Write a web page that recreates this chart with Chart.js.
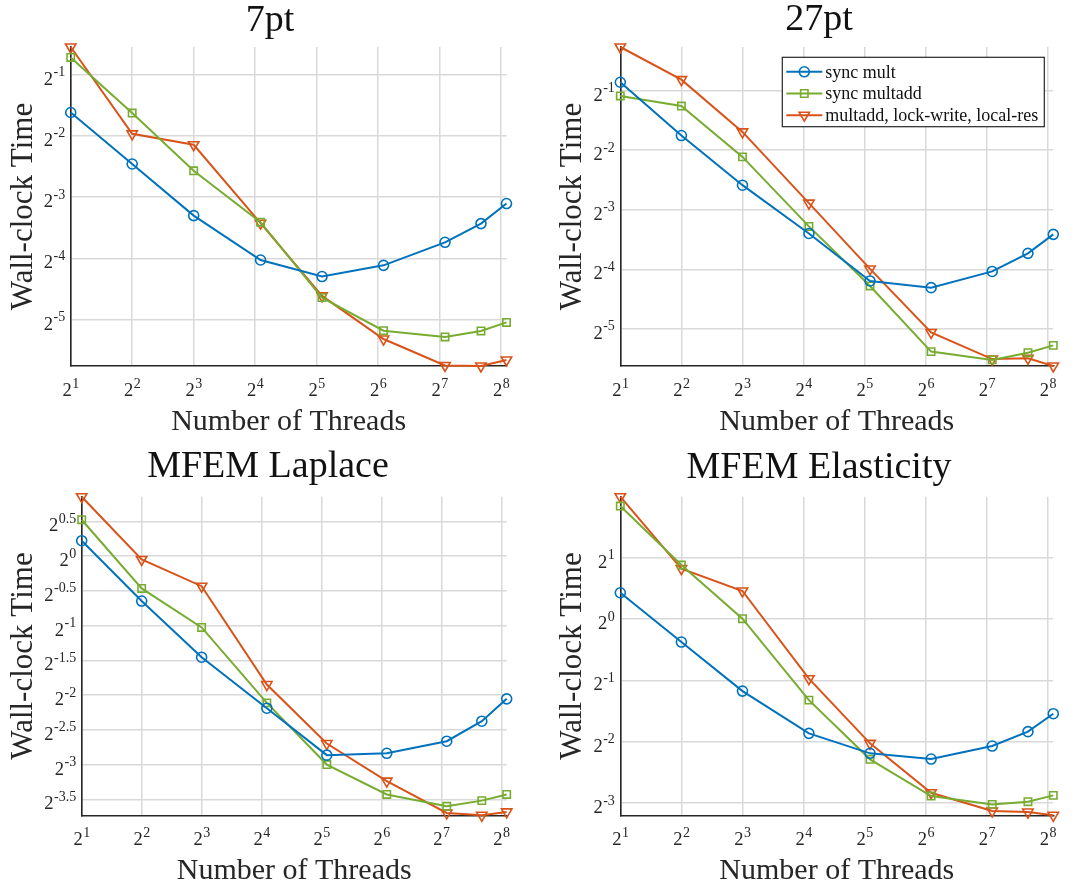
<!DOCTYPE html>
<html>
<head>
<meta charset="utf-8">
<title>Wall-clock time vs threads</title>
<script src="https://cdn.jsdelivr.net/npm/chart.js@4.4.1/dist/chart.umd.min.js"></script>
<style>
  body { margin: 0; background: #fff; }
  .panel { position: absolute; }
</style>
</head>
<body>
<canvas id="p7pt" class="panel" width="540" height="444" style="left:0;top:0"></canvas>
<canvas id="p27pt" class="panel" width="543" height="444" style="left:540px;top:0"></canvas>
<canvas id="pLap" class="panel" width="540" height="444" style="left:0;top:444px"></canvas>
<canvas id="pEla" class="panel" width="543" height="444" style="left:540px;top:444px"></canvas>
<script>
// ---- Data (seconds) ----
const threads = [2, 4, 8, 17, 34, 68, 136, 204, 272];
const seriesNames = ['sync mult', 'sync multadd', 'multadd, lock-write, local-res'];
const xTickExp = [1, 2, 3, 4, 5, 6, 7, 8];

const pt7SyncMult    = [0.326, 0.182, 0.1015, 0.0614, 0.0509, 0.0578, 0.0750, 0.0927, 0.1163];
const pt7SyncMultadd = [0.608, 0.324, 0.1685, 0.0942, 0.0401, 0.0276, 0.0257, 0.0275, 0.0303];
const pt7LockWrite   = [0.684, 0.256, 0.2263, 0.0931, 0.0409, 0.0251, 0.0186, 0.0185, 0.0198];
const pt7YExp = [-5, -4, -3, -2, -1];

const pt27SyncMult    = [0.551, 0.2965, 0.1664, 0.0949, 0.0546, 0.0505, 0.0610, 0.0753, 0.0939];
const pt27SyncMultadd = [0.470, 0.418, 0.2313, 0.1030, 0.0515, 0.0240, 0.0218, 0.0237, 0.0258];
const pt27LockWrite   = [0.8305, 0.568, 0.3093, 0.1351, 0.0628, 0.0300, 0.0220, 0.0222, 0.0203];
const pt27YExp = [-5, -4, -3, -2, -1];

const lapSyncMult    = [1.166, 0.639, 0.365, 0.2196, 0.1375, 0.1401, 0.158, 0.1929, 0.241];
const lapSyncMultadd = [1.437, 0.7245, 0.491, 0.2316, 0.1252, 0.0929, 0.0826, 0.0874, 0.0929];
const lapLockWrite   = [1.808, 0.967, 0.741, 0.278, 0.1544, 0.1061, 0.0773, 0.0755, 0.0781];
const lapYExp = [-3.5, -3, -2.5, -2, -1.5, -1, -0.5, 0, 0.5];

const elaSyncMult    = [1.346, 0.771, 0.443, 0.2747, 0.2192, 0.2055, 0.238, 0.280, 0.343];
const elaSyncMultadd = [3.585, 1.840, 1.0035, 0.400, 0.2048, 0.1353, 0.1231, 0.1269, 0.1363];
const elaLockWrite   = [3.986, 1.767, 1.373, 0.5095, 0.2454, 0.1404, 0.1142, 0.1129, 0.1088];
const elaYExp = [-3, -2, -1, 0, 1];

// ---- Styling ----
const SERIF = '"Liberation Serif", "Times New Roman", serif';
const COLORS = ['#0072BD', '#77AC30', '#D95319'];
const MARKERS = [
  { style: 'circle', radius: 5, rotation: 0 },
  { style: 'rect', radius: 5.2, rotation: 0 },
  { style: 'triangle', radius: 6, rotation: 180 },
];
const TEXT = '#262626';

// draws "2^exp" with a raised exponent
function drawPow(ctx, exp, x, baseline, align) {
  ctx.font = `18.5px ${SERIF}`;
  const wb = ctx.measureText('2').width;
  ctx.font = `14px ${SERIF}`;
  const ws = ctx.measureText(exp).width;
  const left = align === 'center' ? x - (wb + ws) / 2 : x - (wb + ws);
  ctx.textAlign = 'left';
  ctx.textBaseline = 'alphabetic';
  ctx.fillStyle = TEXT;
  ctx.font = `18.5px ${SERIF}`;
  ctx.fillText('2', left, baseline);
  ctx.font = `14px ${SERIF}`;
  ctx.fillText(exp, left + wb + 0.5, baseline - 8.5);
}

function drawMarker(ctx, idx, x, y) {
  const m = MARKERS[idx];
  ctx.beginPath();
  if (m.style === 'circle') {
    ctx.arc(x, y, m.radius, 0, Math.PI * 2);
  } else if (m.style === 'rect') {
    const h = m.radius * Math.SQRT1_2;
    ctx.rect(x - h, y - h, 2 * h, 2 * h);
  } else {
    const r = m.radius;
    ctx.moveTo(x, y + r);
    ctx.lineTo(x - r * 0.866, y - r / 2);
    ctx.lineTo(x + r * 0.866, y - r / 2);
    ctx.closePath();
  }
  ctx.stroke();
}

// titles, axis titles, superscript tick labels, optional legend
const panelText = {
  id: 'panelText',
  afterDraw(chart, args, opts) {
    const ctx = chart.ctx;
    const area = chart.chartArea;
    const xs = chart.scales.x;
    const ys = chart.scales.y;
    ctx.save();

    xTickExp.forEach((e) => {
      drawPow(ctx, String(e), xs.getPixelForValue(2 ** e), area.bottom + 30, 'center');
    });
    opts.yExp.forEach((e) => {
      drawPow(ctx, String(e), area.left - 6, ys.getPixelForValue(2 ** e) + 10, 'right');
    });

    ctx.fillStyle = '#111';
    ctx.textAlign = 'center';
    ctx.textBaseline = 'alphabetic';
    ctx.font = `38px ${SERIF}`;
    ctx.fillText(opts.title, opts.titleX, opts.titleY);

    ctx.fillStyle = TEXT;
    ctx.font = `30px ${SERIF}`;
    ctx.fillText('Number of Threads', (area.left + area.right) / 2, area.bottom + 64);

    ctx.save();
    ctx.translate(opts.yTitleX, (area.top + area.bottom) / 2);
    ctx.rotate(-Math.PI / 2);
    ctx.textBaseline = 'middle';
    ctx.font = `31px ${SERIF}`;
    ctx.fillText('Wall-clock Time', 0, 0);
    ctx.restore();

    if (opts.legend) {
      const lg = opts.legend;
      ctx.fillStyle = '#fff';
      ctx.fillRect(lg.x, lg.y, lg.w, lg.h);
      ctx.strokeStyle = '#262626';
      ctx.lineWidth = 1.2;
      ctx.strokeRect(lg.x, lg.y, lg.w, lg.h);
      seriesNames.forEach((name, i) => {
        const cy = lg.y + 14.5 + i * 21.7;
        ctx.strokeStyle = COLORS[i];
        ctx.lineWidth = 2;
        ctx.beginPath();
        ctx.moveTo(lg.x + 4, cy);
        ctx.lineTo(lg.x + 40, cy);
        ctx.stroke();
        ctx.lineWidth = 1.6;
        drawMarker(ctx, i, lg.x + 22, cy);
        ctx.fillStyle = '#111';
        ctx.textAlign = 'left';
        ctx.textBaseline = 'middle';
        ctx.font = `18px ${SERIF}`;
        ctx.fillText(name, lg.x + 43, cy + 1);
      });
    }
    ctx.restore();
  },
};

function makePanel(id, series, yExp, box, text) {
  const canvas = document.getElementById(id);
  const all = series.flat();
  const datasets = series.map((vals, i) => ({
    label: seriesNames[i],
    data: vals.map((v, k) => ({ x: threads[k], y: v })),
    borderColor: COLORS[i],
    backgroundColor: 'rgba(0,0,0,0)',
    borderWidth: 2,
    pointStyle: MARKERS[i].style,
    pointRadius: MARKERS[i].radius,
    pointRotation: MARKERS[i].rotation,
    pointBorderWidth: 1.6,
    pointBackgroundColor: 'rgba(0,0,0,0)',
    tension: 0,
    clip: false,
  }));

  return new Chart(canvas.getContext('2d'), {
    type: 'line',
    data: { datasets },
    options: {
      responsive: false,
      animation: false,
      devicePixelRatio: 1,
      layout: {
        padding: { left: 0, top: box.top, right: canvas.width - box.right, bottom: 0 },
      },
      plugins: {
        legend: { display: false },
        tooltip: { enabled: false },
        panelText: { yExp, ...text },
      },
      scales: {
        x: {
          type: 'logarithmic',
          min: 2,
          max: 272,
          afterBuildTicks: (s) => { s.ticks = xTickExp.map((e) => ({ value: 2 ** e })); },
          afterFit: (s) => { s.height = canvas.height - box.bottom; },
          ticks: { display: false },
          grid: { color: '#d9d9d9', lineWidth: 1.5, tickLength: 0, drawTicks: false },
          border: { display: true, color: '#262626', width: 1.6 },
        },
        y: {
          type: 'logarithmic',
          min: Math.min(...all),
          max: Math.max(...all),
          afterBuildTicks: (s) => { s.ticks = yExp.map((e) => ({ value: 2 ** e })); },
          afterFit: (s) => { s.width = box.left; },
          ticks: { display: false },
          grid: { color: '#d9d9d9', lineWidth: 1.5, tickLength: 0, drawTicks: false },
          border: { display: true, color: '#262626', width: 1.6 },
        },
      },
    },
    plugins: [panelText],
  });
}

makePanel('p7pt', [pt7SyncMult, pt7SyncMultadd, pt7LockWrite], pt7YExp,
  { left: 70.7, top: 47, right: 506.5, bottom: 366 },
  { title: '7pt', titleX: 270, titleY: 31, yTitleX: 24 });

makePanel('p27pt', [pt27SyncMult, pt27SyncMultadd, pt27LockWrite], pt27YExp,
  { left: 80.3, top: 47, right: 513.3, bottom: 366 },
  { title: '27pt', titleX: 279, titleY: 30, yTitleX: 32.5,
    legend: { x: 242.3, y: 57.3, w: 262, h: 69.4 } });

makePanel('pLap', [lapSyncMult, lapSyncMultadd, lapLockWrite], lapYExp,
  { left: 81.7, top: 52.7, right: 506.7, bottom: 371.3 },
  { title: 'MFEM Laplace', titleX: 268, titleY: 33, yTitleX: 24 });

makePanel('pEla', [elaSyncMult, elaSyncMultadd, elaLockWrite], elaYExp,
  { left: 80.3, top: 52.7, right: 513.3, bottom: 371.3 },
  { title: 'MFEM Elasticity', titleX: 279, titleY: 34, yTitleX: 32.5 });
</script>
</body>
</html>
